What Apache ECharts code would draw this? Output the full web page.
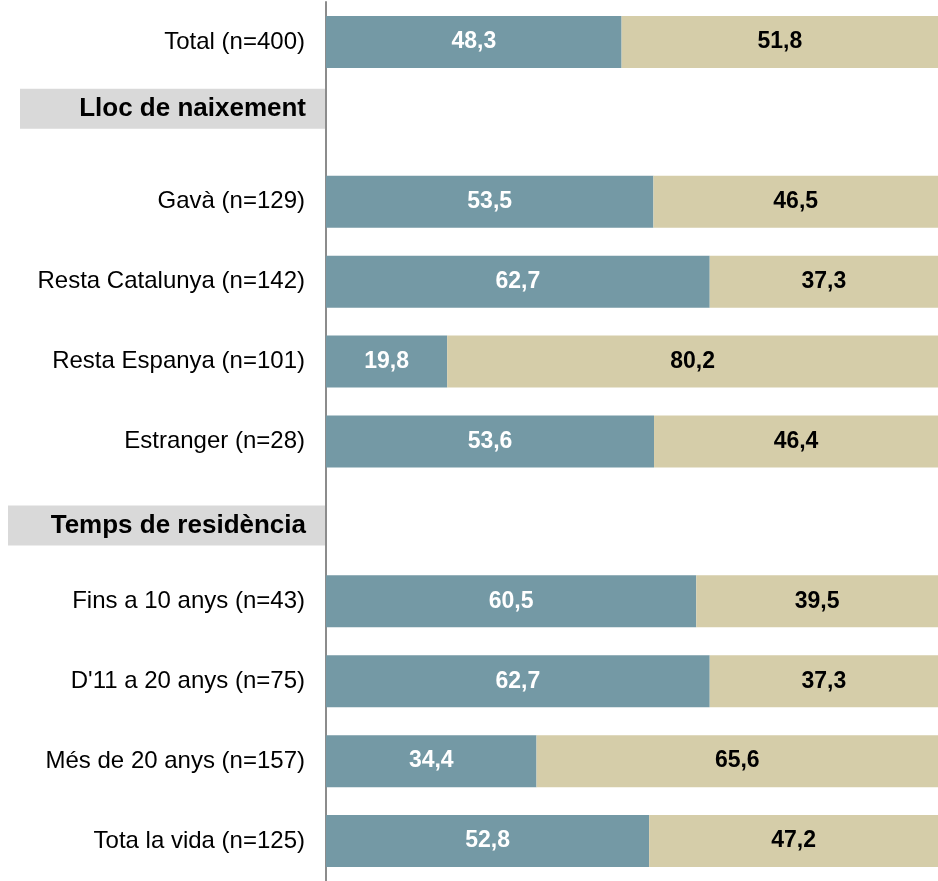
<!DOCTYPE html>
<html lang="ca" style="height: 100%">
<head>
    <meta charset="utf-8">
</head>
<body style="height: 100%; margin: 0">
    <div id="main" style="width: 938px; height: 881px"></div>
    <script type="text/javascript" src="https://fastly.jsdelivr.net/npm/echarts@6/dist/echarts.min.js"></script>
    <script type="text/javascript">
        var categories = ['Total (n=400)', 'Lloc de naixement', 'Gavà (n=129)', 'Resta Catalunya (n=142)',
            'Resta Espanya (n=101)', 'Estranger (n=28)', 'Temps de residència', 'Fins a 10 anys (n=43)',
            "D'11 a 20 anys (n=75)", 'Més de 20 anys (n=157)', 'Tota la vida (n=125)'];
        var headers = ['Lloc de naixement', 'Temps de residència'];
        var serie1 = [48.3, null, 53.5, 62.7, 19.8, 53.6, null, 60.5, 62.7, 34.4, 52.8];
        var serie2 = [51.8, null, 46.5, 37.3, 80.2, 46.4, null, 39.5, 37.3, 65.6, 47.2];

        var FONT = "'Liberation Sans', Arial, sans-serif";

        var dom = document.getElementById('main');
        var myChart = echarts.init(dom, null, { renderer: 'canvas' });

        function fmt(p) {
            return p.value == null ? '' : p.value.toFixed(1).replace('.', ',');
        }

        var option = {
            animation: false,
            textStyle: { fontFamily: FONT },
            grid: { left: 326, right: 0, top: 2, bottom: 0 },
            xAxis: {
                type: 'value',
                min: 0,
                max: 100,
                show: false
            },
            yAxis: {
                type: 'category',
                inverse: true,
                data: categories,
                axisLine: { lineStyle: { color: '#8c8c8c', width: 2 } },
                axisTick: { show: false },
                axisLabel: {
                    margin: 1,
                    fontFamily: FONT,
                    formatter: function (v) {
                        if (v === headers[0]) return '{h1|' + v + '}\n{s1| }';
                        if (v === headers[1]) return '{s2| }\n{h2|' + v + '}';
                        return '{n|' + v + '}';
                    },
                    rich: {
                        n: { fontSize: 24, fontFamily: FONT, color: '#000', padding: [0, 20, 0, 0] },
                        h1: {
                            fontSize: 26, fontFamily: FONT, fontWeight: 'bold', color: '#000', backgroundColor: '#d9d9d9',
                            width: 286, height: 40, align: 'right', padding: [0, 19, 0, 0]
                        },
                        h2: {
                            fontSize: 26, fontFamily: FONT, fontWeight: 'bold', color: '#000', backgroundColor: '#d9d9d9',
                            width: 298, height: 40, align: 'right', padding: [0, 19, 0, 0]
                        },
                        s1: { height: 26, fontSize: 4 },
                        s2: { height: 8, fontSize: 4 }
                    }
                }
            },
            series: [
                {
                    name: 'A',
                    type: 'bar',
                    stack: 'total',
                    barWidth: 52,
                    data: serie1,
                    itemStyle: { color: '#7499a5' },
                    label: {
                        show: true,
                        position: 'inside',
                        color: '#ffffff',
                        fontWeight: 'bold',
                        fontSize: 23,
                        fontFamily: FONT,
                        formatter: fmt
                    }
                },
                {
                    name: 'B',
                    type: 'bar',
                    stack: 'total',
                    barWidth: 52,
                    data: serie2,
                    itemStyle: { color: '#d5cda9' },
                    label: {
                        show: true,
                        position: 'inside',
                        color: '#000000',
                        fontWeight: 'bold',
                        fontSize: 23,
                        fontFamily: FONT,
                        formatter: fmt
                    }
                }
            ]
        };

        myChart.setOption(option);
        window.addEventListener('resize', myChart.resize);
    </script>
</body>
</html>
